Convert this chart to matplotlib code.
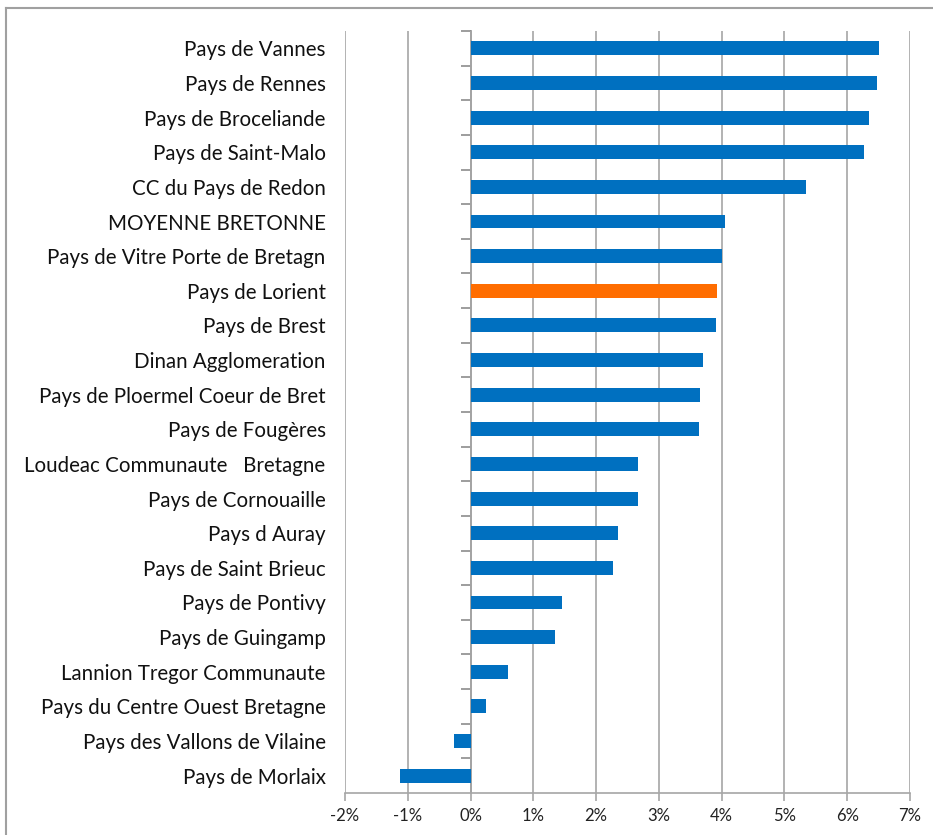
import matplotlib.pyplot as plt
from matplotlib.lines import Line2D
from matplotlib.ticker import FuncFormatter

# categories top to bottom
territoires = [
    "Pays de Vannes", "Pays de Rennes", "Pays de Broceliande", "Pays de Saint-Malo",
    "CC du Pays de Redon", "MOYENNE BRETONNE", "Pays de Vitre Porte de Bretagn",
    "Pays de Lorient", "Pays de Brest", "Dinan Agglomeration",
    "Pays de Ploermel Coeur de Bret", "Pays de Fougères",
    "Loudeac Communaute   Bretagne", "Pays de Cornouaille", "Pays d Auray",
    "Pays de Saint Brieuc", "Pays de Pontivy", "Pays de Guingamp",
    "Lannion Tregor Communaute", "Pays du Centre Ouest Bretagne",
    "Pays des Vallons de Vilaine", "Pays de Morlaix",
]
evolution = [6.51, 6.47, 6.34, 6.26, 5.34, 4.06, 4.00, 3.93, 3.91, 3.70, 3.66, 3.64,
             2.67, 2.67, 2.35, 2.27, 1.45, 1.35, 0.59, 0.25, -0.26, -1.12]
highlight = "Pays de Lorient"
xticks = list(range(-2, 8))

BLUE = "#0070C0"
ORANGE = "#FF6D00"
GRID = "#a6a6a6"
FONT = ["Lato", "DejaVu Sans"]

fig = plt.figure(figsize=(9.33, 8.35), dpi=100)
ax = fig.add_axes([345 / 933, 1 - 793 / 835, (910 - 345) / 933, (793 - 31) / 835])

pos = list(range(len(territoires)))
colors = [ORANGE if t == highlight else BLUE for t in territoires]
ax.barh(pos, evolution, height=0.4, color=colors, zorder=3)

ax.set_ylim(len(territoires) - 0.5, -0.5)
ax.set_xlim(-2, 7)
ax.set_xticks(xticks)
ax.xaxis.set_major_formatter(FuncFormatter(lambda v, p: f"{v:.0f}%"))
ax.grid(axis="x", color=GRID, linewidth=1.2, zorder=0)

for s in ["top", "right", "left"]:
    ax.spines[s].set_visible(False)
ax.spines["bottom"].set_color(GRID)
ax.spines["bottom"].set_linewidth(1.2)
ax.tick_params(axis="x", length=6, color=GRID, width=1.2, labelsize=12,
               labelcolor="#222222", pad=5)

ax.set_yticks(pos)
ax.set_yticklabels(territoires, fontsize=14.8, color="#111111")
ax.tick_params(axis="y", length=0, pad=14)

# vertical axis at 0 with ticks between categories
zero = ax.secondary_yaxis(2 / 9)
zero.set_yticks([p + 0.5 for p in pos[:-1]] + [-0.5])
zero.set_yticklabels([])
zero.spines["left"].set_color("#8c8c8c")
zero.spines["left"].set_linewidth(1.2)
zero.tick_params(length=7, color="#8c8c8c", width=1.2)

# outer frame
fig.add_artist(Line2D([6 / 933, 1], [1 - 8 / 835] * 2, color="#a0a0a0", lw=1.5))
fig.add_artist(Line2D([6 / 933] * 2, [0, 1 - 8 / 835], color="#a0a0a0", lw=1.5))

for lbl in ax.get_yticklabels() + ax.get_xticklabels():
    lbl.set_family(FONT)

fig.savefig("out.png", dpi=100)
